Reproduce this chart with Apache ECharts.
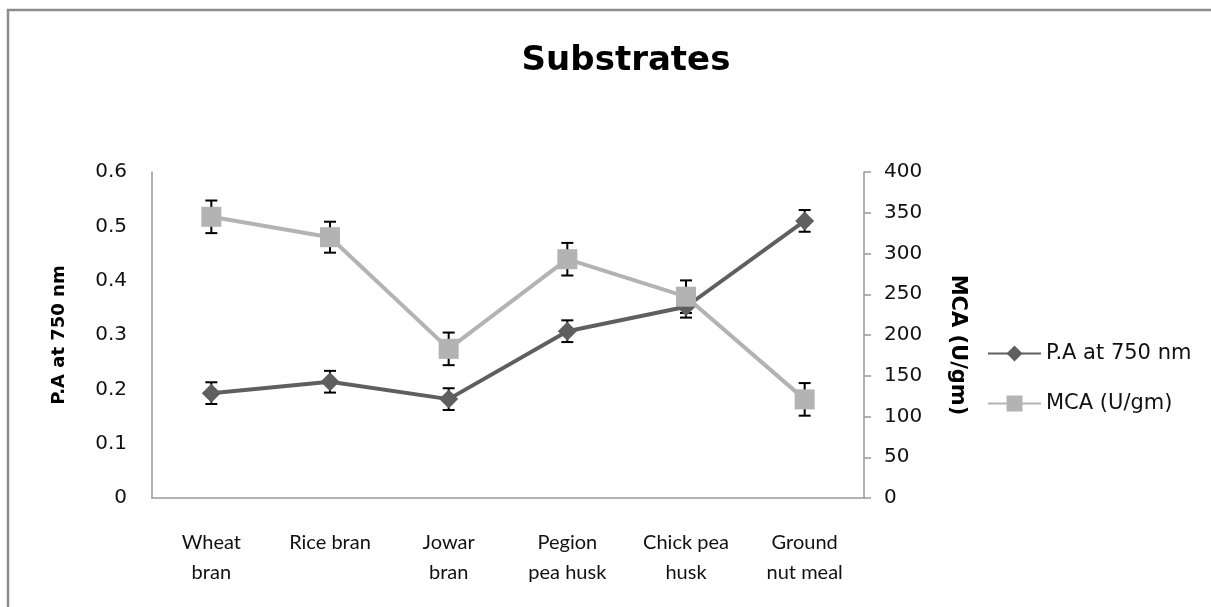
<!DOCTYPE html>
<html>
<head>
<meta charset="utf-8">
<script src="https://cdn.jsdelivr.net/npm/echarts@6/dist/echarts.min.js"></script>
<style>html,body{margin:0;padding:0;background:#fff}#c{width:1211px;height:607px}</style>
</head>
<body>
<div id="c"></div>
<script>
const categories = ['Wheat\nbran', 'Rice bran', 'Jowar\nbran', 'Pegion\npea husk', 'Chick pea\nhusk', 'Ground\nnut meal'];
const paValues = [0.193, 0.214, 0.182, 0.307, 0.352, 0.510];
const paErrors = [0.02, 0.02, 0.02, 0.02, 0.02, 0.02];
const mcaValues = [345, 320, 183, 293, 247, 121];
const mcaErrors = [20, 19, 20, 20, 20, 20];
const leftTicks = [0, 0.1, 0.2, 0.3, 0.4, 0.5, 0.6];
const rightTicks = [0, 50, 100, 150, 200, 250, 300, 350, 400];

const FONT = 'Lato, "Open Sans", sans-serif';
const WIDE = '"DejaVu Sans", sans-serif';
const chart = echarts.init(document.getElementById('c'), null, {renderer: 'canvas'});

function errRender(values, errors) {
  return function (params, api) {
    const i = api.value(0);
    const v = values[i], e = errors[i];
    const top = api.coord([i, v + e]);
    const bot = api.coord([i, v - e]);
    const hw = 6;
    const style = {stroke: '#000', lineWidth: 2};
    return {
      type: 'group',
      children: [
        {type: 'line', shape: {x1: top[0], y1: top[1], x2: bot[0], y2: bot[1]}, style},
        {type: 'line', shape: {x1: top[0] - hw, y1: top[1], x2: top[0] + hw, y2: top[1]}, style},
        {type: 'line', shape: {x1: bot[0] - hw, y1: bot[1], x2: bot[0] + hw, y2: bot[1]}, style}
      ]
    };
  };
}

const option = {
  backgroundColor: '#fff',
  animation: false,
  title: {
    text: 'Substrates', left: 621, top: 39, textAlign: 'center',
    textStyle: {fontFamily: WIDE, fontSize: 34, fontWeight: 'bold', color: '#000'}
  },
  grid: {left: 152, right: 347, top: 172, bottom: 109},
  legend: {
    orient: 'vertical', left: 987, top: 343, padding: 0, itemGap: 29,
    itemWidth: 53, itemHeight: 20,
    textStyle: {fontFamily: WIDE, fontSize: 21, color: '#111', lineHeight: 20},
    data: ['P.A at 750 nm', 'MCA (U/gm)']
  },
  xAxis: {
    type: 'category', data: categories, boundaryGap: true,
    axisLine: {lineStyle: {color: '#999', width: 1.5}},
    axisTick: {show: false},
    axisLabel: {fontFamily: FONT, fontSize: 20, color: '#111', margin: 30, lineHeight: 30, interval: 0}
  },
  yAxis: [
    {
      type: 'value', min: 0, max: 0.6, interval: 0.1,
      axisLine: {show: true, lineStyle: {color: '#999', width: 1.5}},
      axisTick: {show: false},
      splitLine: {show: false},
      axisLabel: {fontFamily: WIDE, fontSize: 20, color: '#111', margin: 25,
        formatter: v => leftTicks.includes(+v.toFixed(1)) ? String(+v.toFixed(1)) : ''}
    },
    {
      type: 'value', min: 0, max: 400, interval: 50, position: 'right',
      axisLine: {show: true, lineStyle: {color: '#999', width: 1.5}},
      axisTick: {show: true, length: 7, inside: false, lineStyle: {color: '#999', width: 1.5}},
      splitLine: {show: false},
      axisLabel: {fontFamily: WIDE, fontSize: 20, color: '#111', margin: 20,
        formatter: v => rightTicks.includes(v) ? String(v) : ''}
    }
  ],
  series: [
    {
      name: 'P.A at 750 nm', type: 'line', yAxisIndex: 0, data: paValues, z: 3,
      symbol: 'diamond', symbolSize: 19,
      lineStyle: {color: '#5f5f5f', width: 4},
      itemStyle: {color: '#5f5f5f'}
    },
    {
      name: 'MCA (U/gm)', type: 'line', yAxisIndex: 1, data: mcaValues, z: 3,
      symbol: 'rect', symbolSize: 20,
      lineStyle: {color: '#b3b3b3', width: 4},
      itemStyle: {color: '#b3b3b3'}
    },
    {
      type: 'custom', yAxisIndex: 0, z: 1, silent: true,
      data: paValues.map((v, i) => [i, v]),
      renderItem: errRender(paValues, paErrors)
    },
    {
      type: 'custom', yAxisIndex: 1, z: 1, silent: true,
      data: mcaValues.map((v, i) => [i, v]),
      renderItem: errRender(mcaValues, mcaErrors)
    }
  ],
  graphic: [
    {type: 'polyline', shape: {points: [[8, 607], [8, 10], [1211, 10]]},
      style: {stroke: '#8c8c8c', lineWidth: 2.5, fill: null}, z: 10},
    {type: 'text', x: 59, y: 335, rotation: Math.PI / 2,
      style: {text: 'P.A at 750 nm', fontFamily: WIDE, fontSize: 18, fontWeight: 'bold', fill: '#000',
        textAlign: 'center', textVerticalAlign: 'middle'}},
    {type: 'text', x: 957, y: 345, rotation: -Math.PI / 2,
      style: {text: 'MCA (U/gm)', fontFamily: WIDE, fontSize: 21, fontWeight: 'bold', fill: '#000',
        textAlign: 'center', textVerticalAlign: 'middle'}}
  ]
};
chart.setOption(option);
</script>
</body>
</html>
